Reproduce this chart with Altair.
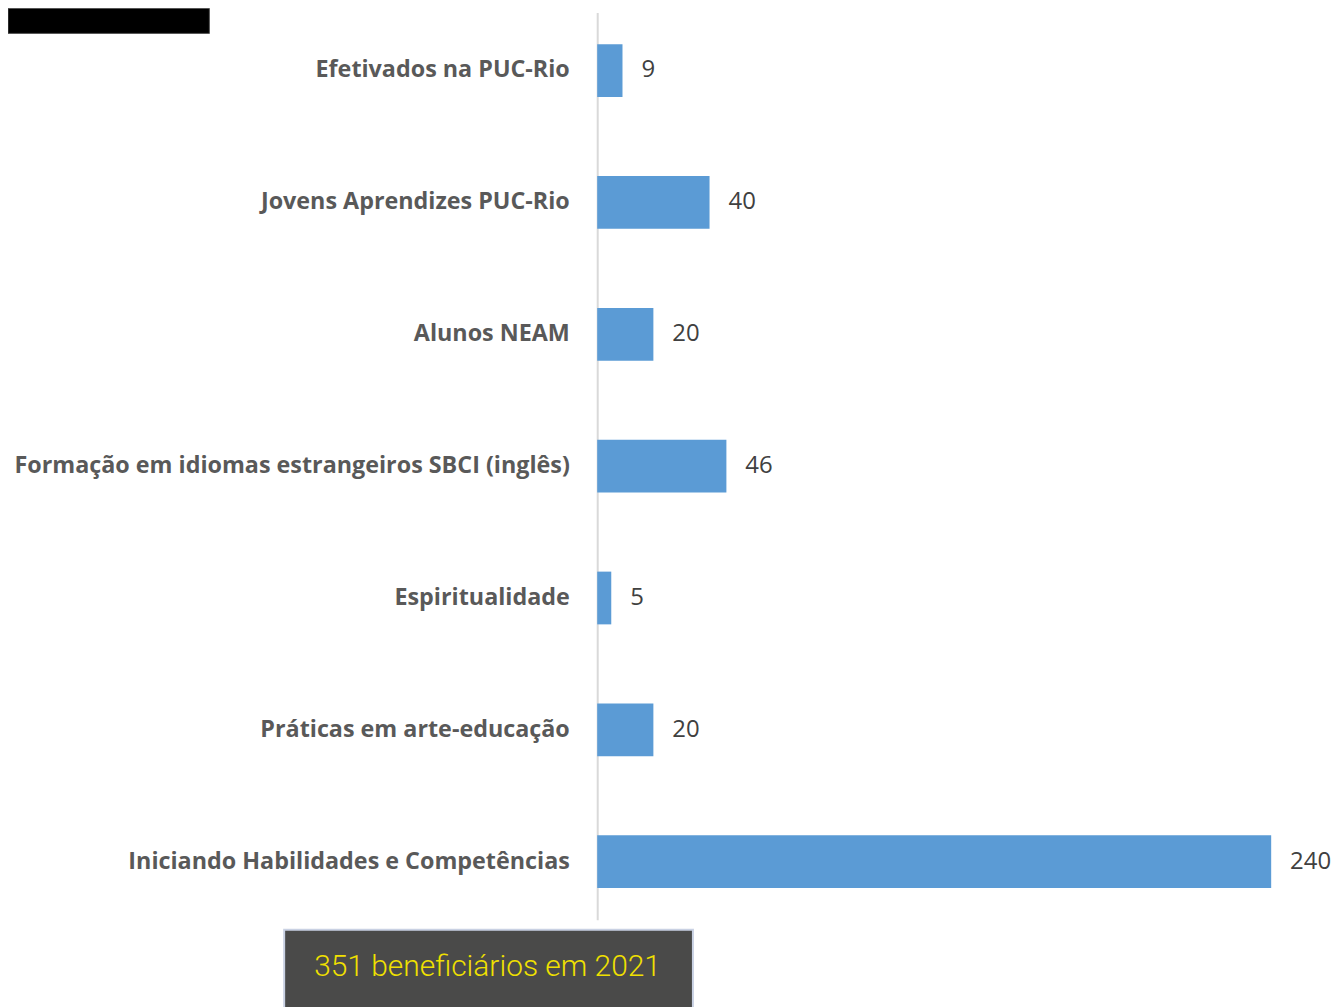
import altair as alt
import pandas as pd

categories = [
    "Efetivados na PUC-Rio",
    "Jovens Aprendizes PUC-Rio",
    "Alunos NEAM",
    "Formação em idiomas estrangeiros SBCI (inglês)",
    "Espiritualidade",
    "Práticas em arte-educação",
    "Iniciando Habilidades e Competências",
]
values = [9, 40, 20, 46, 5, 20, 240]
footer_text = ["351 beneficiários em 2021"]

df = pd.DataFrame({"cat": categories, "val": values})

W, H = 676, 910

y_enc = alt.Y(
    "cat:N",
    sort=categories,
    scale=alt.Scale(paddingInner=0.6, paddingOuter=0.24),
    axis=alt.Axis(
        title=None,
        ticks=False,
        domain=True,
        domainColor="#d9d9d9",
        domainWidth=2,
        labelFont="Open Sans",
        labelFontWeight="bold",
        labelFontSize=23.4,
        labelColor="#595959",
        labelPadding=28,
        labelLimit=700,
        grid=False,
    ),
)
x_enc = alt.X("val:Q", scale=alt.Scale(domain=[0, 240], nice=False), axis=None)

bars = alt.Chart(df).mark_bar(color="#5b9bd5").encode(x=x_enc, y=y_enc)
labels = alt.Chart(df).mark_text(
    align="left", baseline="middle", dx=19, font="Open Sans", fontSize=24, color="#404040"
).encode(x=x_enc, y=alt.Y("cat:N", sort=categories), text="val:Q")

# decorative boxes
black_box = alt.Chart(pd.DataFrame({"a": [0]})).mark_rect(
    color="black", stroke="#555555", strokeWidth=1
).encode(x=alt.value(-591), x2=alt.value(-389), y=alt.value(-4), y2=alt.value(21))

footer_df = pd.DataFrame({"t": footer_text})
footer_box = alt.Chart(footer_df).mark_rect(
    color="#4a4a49", stroke="#c9d1e3", strokeWidth=2
).encode(x=alt.value(-314), x2=alt.value(96), y=alt.value(920), y2=alt.value(1000))
footer_label = alt.Chart(footer_df).mark_text(
    align="center", baseline="middle", font="Roboto", fontWeight=300,
    fontSize=30, color="#f0e000"
).encode(x=alt.value(-110), y=alt.value(957), text="t:N")

chart = (
    alt.layer(bars, labels, black_box, footer_box, footer_label)
    .properties(
        width=W,
        height=H,
        background="white",
        autosize=alt.AutoSizeParams(type="none"),
        padding={"left": 591, "top": 3, "right": 60, "bottom": 86},
    )
    .configure_view(strokeWidth=0, stroke=None)
)

chart.save("out.html", embed_options={"renderer": "svg", "actions": False})
